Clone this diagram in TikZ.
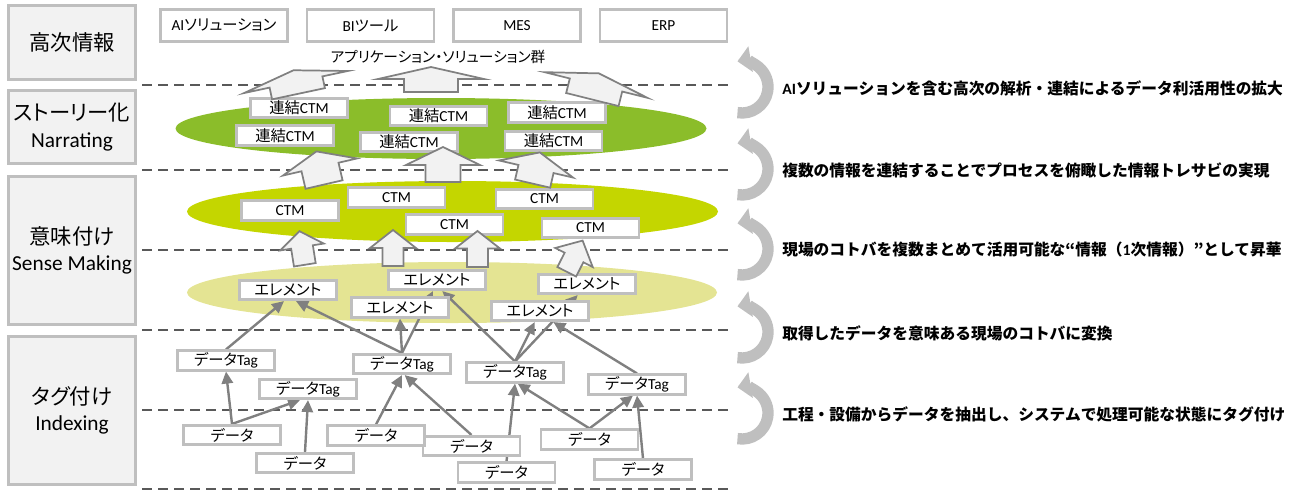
\documentclass[tikz,border=0pt]{standalone}
\usepackage{fontspec}
\usetikzlibrary{arrows.meta,backgrounds}
\setmainfont{Carlito}
\newfontfamily\jp{Noto Sans CJK JP}[RawFeature=+palt]
\newfontfamily\jpnote{Noto Sans CJK JP}
\definecolor{panelgray}{RGB}{242,242,242}
\definecolor{rimgray}{RGB}{191,191,191}
\definecolor{dashgray}{RGB}{89,89,89}
\definecolor{linkgray}{RGB}{128,128,128}
\definecolor{narrgreen}{RGB}{139,189,42}
\definecolor{sensegreen}{RGB}{196,214,0}
\definecolor{elemyellow}{RGB}{228,228,147}
\newcommand{\Ren}{{\jp 連結}CTM}
\newcommand{\Elm}{{\jp エレメント}}
\newcommand{\Dtag}{{\jp データ}Tag}
\newcommand{\Dat}{{\jp データ}}
% flat block arrow: x, y, rotation, wing, neck, head, shaft
\newcommand{\upblock}[7]{%
  \draw[blockarrow,shift={(#1,#2)},rotate=#3]
    (-#4,0) -- (0,-#6) -- (#4,0) -- (#5,0) -- (#5,#7) -- (-#5,#7) -- (-#5,0) -- cycle;}
\tikzset{
  levelbox/.style={draw=rimgray, fill=panelgray, line width=2.2pt, minimum width=95.25pt,
    inner sep=0pt, align=center, font=\fontsize{16}{20}\selectfont},
  appbox/.style={draw=rimgray, fill=white, line width=2pt, minimum width=95.25pt,
    minimum height=24pt, inner sep=0pt, font=\fontsize{11.5}{13}\selectfont},
  itembox/.style={draw=rimgray, fill=white, line width=2pt, minimum width=72.75pt,
    minimum height=14.6pt, inner sep=0pt, font=\fontsize{11.5}{13}\selectfont},
  flow/.style={draw=linkgray, line width=1.8pt, -{Triangle[length=9pt,width=8.5pt]}},
  blockarrow/.style={draw=linkgray, fill=panelgray, line width=1.3pt},
  layerline/.style={dashgray, line width=2.2pt, dash pattern=on 7.5pt off 4.5pt},
  turnarrow/.style={rimgray, line width=8.5pt, -{Triangle[length=10pt,width=19pt]}},
  note/.style={anchor=west, inner sep=0pt, font=\fontsize{11.8}{14}\selectfont\bfseries}
}
\begin{document}
\begin{tikzpicture}[x=0.75pt, y=-0.75pt]
\useasboundingbox (0,0) rectangle (1316,490);

% levels
\node[levelbox, minimum height=55.5pt] (lvHigh) at (72,42.5) {{\jp 高次情報}};
\node[levelbox, minimum height=55pt] (lvNarr) at (72,127) {{\jp ストーリー化}\\Narrating};
\node[levelbox, minimum height=111pt] (lvSense) at (72,250.5) {{\jp 意味付け}\\Sense Making};
\node[levelbox, minimum height=111pt] (lvIndex) at (72,410.5) {{\jp タグ付け}\\Indexing};

% applications
\node[appbox] (ai) at (224,25.5) {AI{\jp ソリューション}};
\node[appbox] (bi) at (370.5,25.5) {BI{\jp ツール}};
\node[appbox] (mes) at (517,25.5) {MES};
\node[appbox] (erp) at (663.5,25.5) {ERP};
\node[font={\jp\fontsize{11}{13}\selectfont}] (apps) at (438,57) {アプリケーション・ソリューション群};

% narrating
\node[itembox] (ren1) at (299,108) {\Ren};
\node[itembox] (ren2) at (285,135.5) {\Ren};
\node[itembox] (ren3) at (438.5,116) {\Ren};
\node[itembox] (ren4) at (409,142) {\Ren};
\node[itembox] (ren5) at (557,112.5) {\Ren};
\node[itembox] (ren6) at (553.5,141) {\Ren};

% sense making
\node[itembox] (ctm1) at (290,210.5) {CTM};
\node[itembox] (ctm2) at (396.5,197.5) {CTM};
\node[itembox] (ctm3) at (544.5,199) {CTM};
\node[itembox] (ctm4) at (454.5,224.5) {CTM};
\node[itembox] (ctm5) at (590.5,228) {CTM};

% elements
\node[itembox] (elm1) at (288,290) {\Elm};
\node[itembox] (elm2) at (437,280) {\Elm};
\node[itembox] (elm3) at (400,307.5) {\Elm};
\node[itembox] (elm4) at (587,284) {\Elm};
\node[itembox] (elm5) at (540,311) {\Elm};

% indexing
\node[itembox] (tag1) at (226,360.5) {\Dtag};
\node[itembox] (tag2) at (308,389) {\Dtag};
\node[itembox] (tag3) at (402,364) {\Dtag};
\node[itembox] (tag4) at (515,372.5) {\Dtag};
\node[itembox] (tag5) at (637,384.5) {\Dtag};
\node[itembox] (dat1) at (232,435) {\Dat};
\node[itembox] (dat2) at (305,463) {\Dat};
\node[itembox] (dat4) at (471.5,446) {\Dat};
\node[itembox] (dat3) at (376,435.5) {\Dat};
\node[itembox] (dat5) at (506.5,472.5) {\Dat};
\node[itembox] (dat6) at (589.5,439.5) {\Dat};
\node[itembox] (dat7) at (643,469.5) {\Dat};

\begin{pgfonlayer}{background}
  \fill[narrgreen] (441,128.5) ellipse [x radius=265.5, y radius=30.5];
  \fill[sensegreen] (452.5,211.5) ellipse [x radius=265.5, y radius=30.5];
  \fill[elemyellow] (452,292.5) ellipse [x radius=265, y radius=30.5];
  \foreach \y in {85,170,250,330,410,489}
    \draw[layerline] (142,\y) -- (731,\y);
  % data -> tag
  \draw[flow] (dat1.north) -- (tag1.south);
  \draw[flow] (dat1.north) -- ([xshift=-6pt]tag2.south);
  \draw[flow] (dat2.north) -- (tag2.south);
  \draw[flow] (dat3.north) -- (tag3.south);
  \draw[flow] (dat4.north) -- ([xshift=2pt]tag3.south);
  \draw[flow] (dat5.north) -- (tag4.south);
  \draw[flow] (dat6.north) -- ([xshift=2pt]tag4.south);
  \draw[flow] (dat6.north) -- ([xshift=-3pt]tag5.south);
  \draw[flow] (dat7.north) -- (tag5.south);
  % tag -> element
  \draw[flow] (tag1.north) -- ([xshift=-3pt]elm1.south);
  \draw[flow] (tag3.north) -- ([xshift=6pt]elm1.south);
  \draw[flow] (tag3.north) -- (elm3.south);
  \draw[flow] (tag3.north) -- ([xshift=-3pt]elm2.south);
  \draw[flow] (tag4.north) -- ([xshift=4pt]elm2.south);
  \draw[flow] (tag4.north) -- ([xshift=-4pt]elm5.south);
  \draw[flow] (tag4.north) -- ([xshift=-7pt]elm4.south);
  \draw[flow] (tag5.north) -- ([xshift=10pt]elm5.south);
\end{pgfonlayer}

% block arrows between levels
\upblock{296}{82}{12}{53}{27}{12}{12}
\upblock{431}{79}{0}{53}{27}{12}{13}
\upblock{596}{85}{-14}{53}{27}{12}{15}
\upblock{320}{167}{13}{38}{19}{16}{18}
\upblock{443}{165}{0}{37}{17.5}{18}{17}
\upblock{536}{169}{-13}{38}{18}{17}{15}
\upblock{302}{247}{9}{22}{11}{16}{18}
\upblock{393}{248}{0}{23}{10.5}{18}{18}
\upblock{477.5}{248.5}{0}{22.5}{10.5}{17.5}{18.5}
\upblock{574}{257.5}{-27}{21}{10.5}{19}{16}

% notes on the right
\foreach \ty in {87,169,249,332,413}
  \draw[turnarrow] (742,\ty) ++(-100:19.5pt) arc[start angle=-100, end angle=100, radius=19.5pt];
\node[note] (note1) at (782,88) {AI{\jpnote ソリューションを含む高次の解析・連結によるデータ利活用性の拡大}};
\node[note] (note2) at (782,170) {{\jpnote 複数の情報を連結することでプロセスを俯瞰した情報トレサビの実現}};
\node[note] (note3) at (782,250) {{\jpnote 現場のコトバを複数まとめて活用可能な“情報（}1{\jpnote 次情報）”として昇華}};
\node[note] (note4) at (782,333) {{\jpnote 取得したデータを意味ある現場のコトバに変換}};
\node[note] (note5) at (782,414) {{\jpnote 工程・設備からデータを抽出し、システムで処理可能な状態にタグ付け}};
\end{tikzpicture}
\end{document}
